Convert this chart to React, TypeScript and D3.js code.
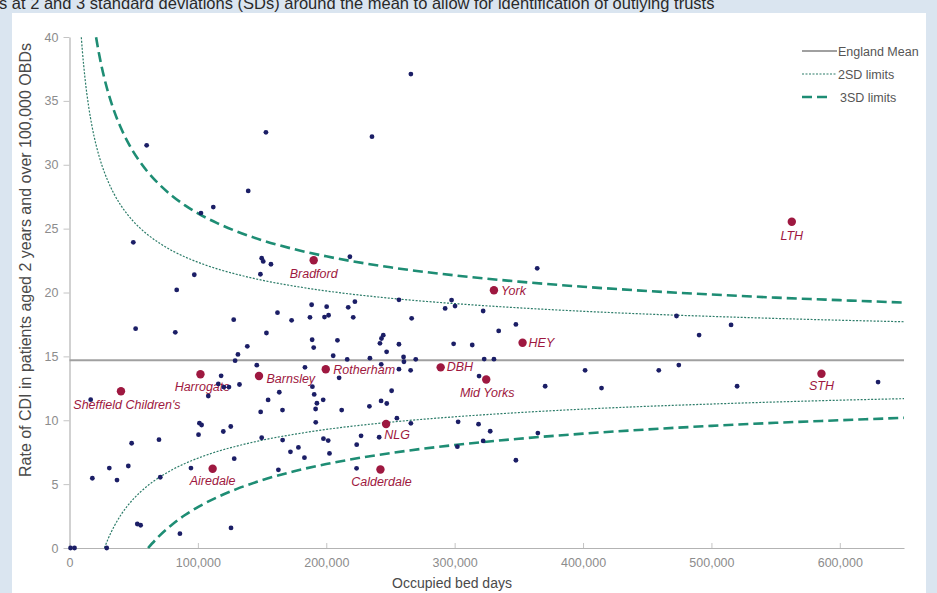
import { useEffect, useRef } from 'react'
import * as d3 from 'd3'

// --- DATA ---
// unnamed trusts: occupied bed days and rate per 100,000 OBDs
const trustBedDays = [
  60100, 153000, 139200, 112000, 102400, 49700, 149700, 150900, 156900, 218400,
  97200, 148700, 265900, 235600, 83500, 188600, 200300, 222300, 217100, 162000,
  187300, 198600, 201800, 221000, 127900, 173000, 51500, 82400, 153400, 189000,
  208700, 190200, 138500, 131200, 205400, 216300, 129000, 145900, 183400, 118100,
  210000, 115900, 120200, 124200, 132400, 189200, 108100, 16500, 163400, 190600,
  154700, 197600, 192700, 191700, 165900, 148900, 212000, 101200, 102900, 191800,
  125600, 119800, 100500, 149700, 69700, 48400, 166000, 197800, 201500, 223700,
  172100, 178300, 202500, 183000, 128300, 45800, 31000, 94600, 162700, 223600,
  17800, 37000, 70700, 52800, 55400, 86000, 125800, 800, 3900, 29000,
  364300, 256600, 266500, 297600, 300300, 292600, 322200, 334300, 347700, 244400,
  243000, 241800, 247000, 256600, 299200, 313700, 234000, 242800, 260200, 260500,
  269700, 323000, 330600, 256600, 265700, 319000, 250900, 233600, 242700, 247100,
  255000, 265900, 302700, 318600, 327700, 364800, 227100, 241200, 302100, 322200,
  347700, 370500, 401600, 414400, 459000, 474600, 472800, 515300, 490400, 520000,
  629800,
]
const trustRates = [
  31.52, 32.54, 27.95, 26.69, 26.22, 23.93, 22.68, 22.43, 22.21, 22.8,
  21.39, 21.43, 37.1, 32.2, 20.2, 19.04, 18.89, 19.28, 18.84, 18.42,
  18.06, 18.08, 18.22, 18.06, 17.87, 17.82, 17.17, 16.88, 16.83, 16.3,
  16.26, 15.69, 15.79, 15.15, 15.05, 14.76, 14.66, 14.31, 14.14, 13.48,
  13.32, 12.84, 12.6, 12.6, 12.8, 12.63, 11.9, 11.61, 12.19, 12.02,
  11.59, 11.6, 11.33, 10.88, 10.8, 10.65, 10.8, 9.77, 9.63, 9.84,
  9.51, 9.12, 8.87, 8.63, 8.48, 8.2, 8.45, 8.56, 8.41, 8.09,
  7.53, 7.87, 7.4, 7.07, 6.99, 6.42, 6.26, 6.26, 6.12, 6.24,
  5.46, 5.32, 5.54, 1.88, 1.78, 1.12, 1.57, 0, 0, 0,
  21.89, 19.43, 17.98, 19.41, 18.94, 18.75, 18.55, 16.99, 17.5, 16.66,
  16.4, 16.02, 15.36, 15.95, 15.98, 15.89, 14.86, 14.38, 14.95, 14.58,
  14.77, 14.79, 14.78, 14.0, 13.91, 13.46, 12.31, 11.09, 11.51, 11.31,
  10.16, 9.76, 9.88, 9.69, 9.14, 9.0, 8.78, 8.67, 7.93, 8.38,
  6.87, 12.66, 13.91, 12.52, 13.91, 14.32, 18.16, 17.46, 16.67, 12.66,
  12.99,
]

// named (highlighted) trusts
const namedTrusts = [
  'Bradford', 'York', 'HEY', 'Harrogate', 'Barnsley', 'Rotherham', 'DBH',
  'Mid Yorks', "Sheffield Children's", 'NLG', 'Airedale', 'Calderdale', 'LTH', 'STH',
]
const namedBedDays = [
  190200, 330600, 352900, 102000, 147600, 199600, 289100,
  324600, 40100, 246600, 111500, 242200, 562600, 585700,
]
const namedRates = [
  22.53, 20.18, 16.07, 13.6, 13.46, 13.99, 14.14,
  13.19, 12.27, 9.71, 6.2, 6.14, 25.54, 13.64,
]

const englandMean = 14.7

// control limits
const limitBedDays = [
  9200, 10000, 12000, 15000, 17500, 20700, 23000, 27200, 30000, 35000,
  40000, 45000, 50000, 55000, 61200, 70000, 80000, 90000, 100000, 115000,
  130000, 150000, 175000, 200000, 250000, 300000, 350000, 400000, 450000, 500000,
  550000, 600000, 650000,
]
const upper2SD = [
  39.98, 38.95, 36.84, 34.5, 33.03, 31.55, 30.69, 29.4, 28.7, 27.66,
  26.82, 26.13, 25.54, 25.04, 24.5, 23.87, 23.27, 22.78, 22.37, 21.85,
  21.43, 20.96, 20.5, 20.12, 19.55, 19.13, 18.8, 18.53, 18.31, 18.13,
  17.97, 17.83, 17.71,
]
const lower2SD = [
  null, null, null, null, null, null, null, 0, 0.7, 1.74,
  2.58, 3.27, 3.86, 4.36, 4.9, 5.53, 6.13, 6.62, 7.03, 7.55,
  7.97, 8.44, 8.9, 9.28, 9.85, 10.27, 10.6, 10.87, 11.09, 11.27,
  11.43, 11.57, 11.69,
]
const upper3SD = [
  null, null, null, null, null, 39.98, 38.68, 36.75, 35.7, 34.14,
  32.89, 31.85, 30.97, 30.21, 29.4, 28.45, 27.56, 26.82, 26.2, 25.43,
  24.79, 24.09, 23.39, 22.83, 21.97, 21.34, 20.85, 20.45, 20.12, 19.84,
  19.6, 19.4, 19.21,
]
const lower3SD = [
  null, null, null, null, null, null, null, null, null, null,
  null, null, null, null, 0, 0.95, 1.84, 2.58, 3.2, 3.97,
  4.61, 5.31, 6.01, 6.57, 7.43, 8.06, 8.55, 8.95, 9.28, 9.56,
  9.8, 10.0, 10.19,
]

const xTicks = [0, 100000, 200000, 300000, 400000, 500000, 600000]
const yTicks = [0, 5, 10, 15, 20, 25, 30, 35, 40]

const legendLabels = ['England Mean', '2SD limits', '3SD limits']

// label placement around the highlighted dots
const labelPlacement: Record<string, { anchor: string; dx: number; dy: number }> = {
  Bradford: { anchor: 'middle', dx: 0, dy: 18 },
  York: { anchor: 'start', dx: 7, dy: 4.5 },
  HEY: { anchor: 'start', dx: 6, dy: 4 },
  Harrogate: { anchor: 'middle', dx: 2, dy: 17 },
  Barnsley: { anchor: 'start', dx: 7.5, dy: 6.5 },
  Rotherham: { anchor: 'start', dx: 7.5, dy: 4.5 },
  DBH: { anchor: 'start', dx: 6, dy: 4 },
  'Mid Yorks': { anchor: 'middle', dx: 1, dy: 18 },
  "Sheffield Children's": { anchor: 'middle', dx: 6, dy: 18 },
  NLG: { anchor: 'middle', dx: 11, dy: 15 },
  Airedale: { anchor: 'middle', dx: 0, dy: 16.5 },
  Calderdale: { anchor: 'middle', dx: 1, dy: 16.5 },
  LTH: { anchor: 'middle', dx: 0, dy: 18 },
  STH: { anchor: 'middle', dx: 0, dy: 16.5 },
}

const FONT = '"Liberation Sans", Arial, sans-serif'
const MEAN_COLOR = '#a0a0a0'
const SD2_COLOR = '#2c7c69'
const SD3_COLOR = '#1e8d74'
const DOT_COLOR = '#1b1e66'
const NAMED_COLOR = '#9e1840'

export default function App() {
  const svgRef = useRef<SVGSVGElement | null>(null)

  useEffect(() => {
    if (!svgRef.current) return
    const width = 937
    const height = 593

    const svg = d3.select<SVGSVGElement, unknown>(svgRef.current)
    svg.selectAll('*').remove()
    svg.attr('width', width).attr('height', height)

    // --- BACKGROUND ---
    svg.append('rect').attr('width', width).attr('height', height).attr('fill', '#dae5f0')
    svg
      .append('rect')
      .attr('x', 12)
      .attr('y', 13)
      .attr('width', 914)
      .attr('height', height - 13)
      .attr('fill', '#ffffff')

    // caption, clipped at the top like the source screenshot
    svg
      .append('text')
      .attr('x', -1)
      .attr('y', 9)
      .style('font-family', FONT)
      .style('font-size', '16.5px')
      .attr('fill', '#2a2a2a')
      .text(
        's at 2 and 3 standard deviations (SDs) around the mean to allow for identification of outlying trusts'
      )

    // --- SCALES ---
    const x = d3.scaleLinear().domain([0, 650000]).range([69.5, 904])
    const y = d3.scaleLinear().domain([0, 40]).range([548, 37])

    // --- AXES ---
    const xAxis = d3
      .axisBottom(x)
      .tickValues(xTicks)
      .tickFormat((d) => d3.format(',')(d as number))
      .tickSizeInner(-5)
      .tickSizeOuter(0)
      .tickPadding(10)

    const yAxis = d3
      .axisLeft(y)
      .tickValues(yTicks)
      .tickSizeInner(6)
      .tickSizeOuter(0)
      .tickPadding(5)

    const gx = svg.append('g').attr('transform', `translate(0, ${y(0)})`).call(xAxis)
    const gy = svg.append('g').attr('transform', `translate(${x(0)}, 0)`).call(yAxis)

    for (const g of [gx, gy]) {
      g.select('.domain').attr('stroke', '#b3b3b3').attr('stroke-width', 1.2)
      g.selectAll('.tick line').attr('stroke', '#c4c4c4')
      g.selectAll('.tick text')
        .attr('fill', '#8c8c8c')
        .style('font-family', FONT)
        .style('font-size', '12.5px')
    }

    // --- AXIS TITLES ---
    svg
      .append('text')
      .attr('transform', 'translate(31, 260) rotate(-90)')
      .attr('text-anchor', 'middle')
      .style('font-family', FONT)
      .style('font-size', '16px')
      .attr('fill', '#4a4a4a')
      .text('Rate of CDI in patients aged 2 years and over 100,000 OBDs')

    svg
      .append('text')
      .attr('x', 452)
      .attr('y', 588)
      .attr('text-anchor', 'middle')
      .style('font-family', FONT)
      .style('font-size', '14px')
      .attr('fill', '#4a4a4a')
      .text('Occupied bed days')

    // --- LIMIT CURVES ---
    const limitLine = (values: (number | null)[]) =>
      d3
        .line<number>()
        .defined((_, i) => values[i] !== null)
        .x((d) => x(d))
        .y((_, i) => y(values[i] as number))
        .curve(d3.curveMonotoneX)(limitBedDays)

    for (const values of [upper2SD, lower2SD]) {
      svg
        .append('path')
        .attr('d', limitLine(values))
        .attr('fill', 'none')
        .attr('stroke', SD2_COLOR)
        .attr('stroke-width', 1.2)
        .attr('stroke-dasharray', '2,1.5')
    }
    for (const values of [upper3SD, lower3SD]) {
      svg
        .append('path')
        .attr('d', limitLine(values))
        .attr('fill', 'none')
        .attr('stroke', SD3_COLOR)
        .attr('stroke-width', 2.6)
        .attr('stroke-dasharray', '10,5')
    }

    // --- MEAN ---
    svg
      .append('line')
      .attr('x1', x(0))
      .attr('x2', x(650000))
      .attr('y1', y(englandMean))
      .attr('y2', y(englandMean))
      .attr('stroke', MEAN_COLOR)
      .attr('stroke-width', 2)

    // --- LABELS ---
    svg
      .selectAll('.trust-label')
      .data(namedTrusts)
      .enter()
      .append('text')
      .attr('class', 'trust-label')
      .attr('x', (d, i) => x(namedBedDays[i]) + labelPlacement[d].dx)
      .attr('y', (d, i) => y(namedRates[i]) + labelPlacement[d].dy)
      .attr('text-anchor', (d) => labelPlacement[d].anchor)
      .style('font-family', FONT)
      .style('font-size', '12.5px')
      .style('font-style', 'italic')
      .attr('fill', NAMED_COLOR)
      .text((d) => d)

    // --- DOTS ---
    svg
      .selectAll('.trust')
      .data(trustBedDays)
      .enter()
      .append('circle')
      .attr('class', 'trust')
      .attr('cx', (d) => x(d))
      .attr('cy', (_, i) => y(trustRates[i]))
      .attr('r', 2.4)
      .attr('fill', DOT_COLOR)

    svg
      .selectAll('.named')
      .data(namedBedDays)
      .enter()
      .append('circle')
      .attr('class', 'named')
      .attr('cx', (d) => x(d))
      .attr('cy', (_, i) => y(namedRates[i]))
      .attr('r', 4.2)
      .attr('fill', NAMED_COLOR)

    // --- LEGEND ---
    const legend = svg.append('g').attr('transform', 'translate(802, 51)')
    legendLabels.forEach((label, i) => {
      const row = legend.append('g').attr('transform', `translate(0, ${i * 23})`)
      const line = row.append('line').attr('x1', 0).attr('y1', 0).attr('y2', 0)
      if (i === 0) {
        line.attr('x2', 35).attr('stroke', MEAN_COLOR).attr('stroke-width', 2)
      } else if (i === 1) {
        line
          .attr('x2', 35)
          .attr('stroke', SD2_COLOR)
          .attr('stroke-width', 1.2)
          .attr('stroke-dasharray', '2,1.5')
      } else {
        line
          .attr('x2', 25)
          .attr('stroke', SD3_COLOR)
          .attr('stroke-width', 2.6)
          .attr('stroke-dasharray', '10,5')
      }
      row
        .append('text')
        .attr('x', i === 2 ? 38 : 36)
        .attr('y', 4.5)
        .style('font-family', FONT)
        .style('font-size', '12.5px')
        .attr('fill', '#555')
        .text(label)
    })
  }, [])

  return (
    <svg
      ref={svgRef}
      width={937}
      height={593}
      style={{ position: 'absolute', left: 0, top: 0, display: 'block' }}
    />
  )
}
